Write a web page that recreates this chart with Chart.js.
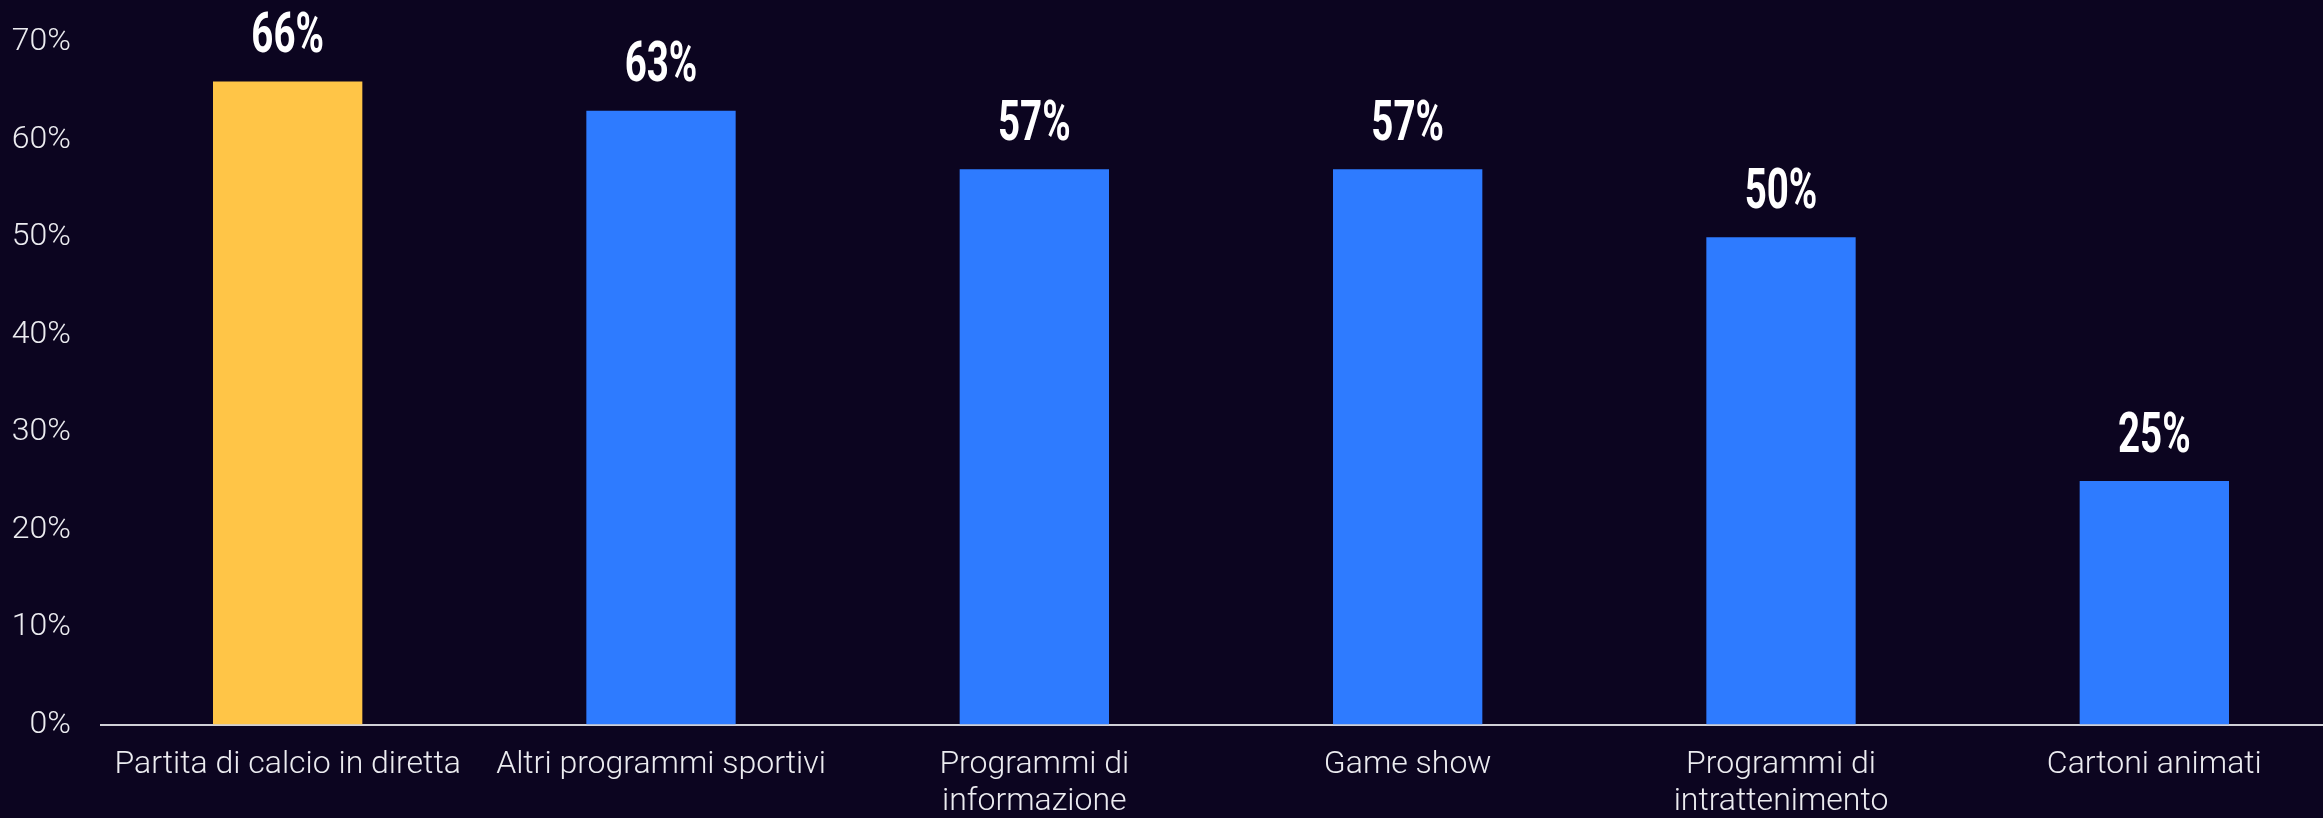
<!DOCTYPE html>
<html>
<head>
<meta charset="utf-8">
<script src="https://cdn.jsdelivr.net/npm/chart.js@4.4.1/dist/chart.umd.min.js"></script>
<style>
  html, body { margin: 0; padding: 0; background: #0c0520; overflow: hidden; }
  #wrap { position: relative; width: 2341px; height: 818px; }
</style>
</head>
<body>
<div id="wrap"><canvas id="c"></canvas></div>
<script>
const categories = [
  'Partita di calcio in diretta',
  'Altri programmi sportivi',
  ['Programmi di', 'informazione'],
  'Game show',
  ['Programmi di', 'intrattenimento'],
  'Cartoni animati'
];
const values = [66, 63, 57, 57, 50, 25];
const barColors = ['#FFC547', '#2E7BFF', '#2E7BFF', '#2E7BFF', '#2E7BFF', '#2E7BFF'];
const yTickValues = [0, 10, 20, 30, 40, 50, 60, 70];

const valueLabels = {
  id: 'valueLabels',
  afterDatasetsDraw(chart) {
    const ctx = chart.ctx;
    const meta = chart.getDatasetMeta(0);
    ctx.save();
    ctx.fillStyle = '#ffffff';
    ctx.font = '700 55px Roboto';
    ctx.textAlign = 'center';
    ctx.textBaseline = 'middle';
    meta.data.forEach((bar, i) => {
      ctx.save();
      ctx.translate(bar.x, bar.y - 43);
      ctx.scale(0.7, 1);
      ctx.fillText(values[i] + '%', 0, 0);
      ctx.restore();
    });
    ctx.restore();
  }
};

new Chart(document.getElementById('c'), {
  type: 'bar',
  data: {
    labels: categories,
    datasets: [{
      data: values,
      backgroundColor: barColors,
      borderWidth: 0,
      categoryPercentage: 0.8,
      barPercentage: 0.5
    }]
  },
  options: {
    responsive: true,
    maintainAspectRatio: false,
    animation: false,
    layout: { padding: { top: 0, right: 0, left: 0, bottom: 0 } },
    plugins: { legend: { display: false }, tooltip: { enabled: false } },
    scales: {
      x: {
        grid: { display: false, drawTicks: false },
        border: { display: true, color: '#d0d0d6', width: 2 },
        ticks: {
          color: '#ececf0',
          font: { family: 'Roboto', size: 32, weight: '300', lineHeight: 1.15 },
          padding: 22,
          maxRotation: 0,
          autoSkip: false
        },
        afterFit(scale) { scale.height = 93.5; }
      },
      y: {
        min: 0,
        max: 70,
        afterBuildTicks(scale) { scale.ticks = yTickValues.map(v => ({ value: v })); },
        grid: { display: false, drawTicks: false },
        border: { display: false },
        ticks: {
          color: '#ececf0',
          font: { family: 'Roboto', size: 32, weight: '300', lineHeight: 0.78 },
          padding: 30,
          callback: v => v + '%'
        },
        afterFit(scale) { scale.width = 101; }
      }
    }
  },
  plugins: [valueLabels]
});
</script>
</body>
</html>
